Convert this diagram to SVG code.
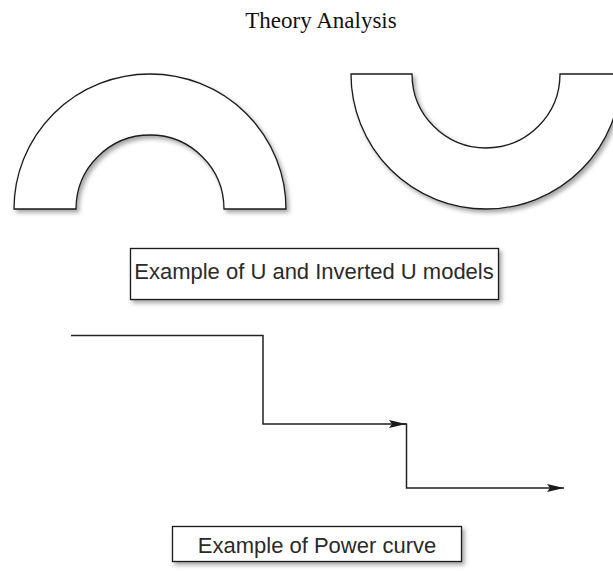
<svg xmlns="http://www.w3.org/2000/svg" width="613" height="571" viewBox="0 0 613 571">
  <style>
    .shape { fill: #ffffff; stroke: #1a1a1a; stroke-width: 1.3; filter: url(#shadow); }
    .label { font-family: "Liberation Sans", Arial, sans-serif; font-size: 22px; fill: #2a2a2a; }
    .title { font-family: "Liberation Serif", "Times New Roman", serif; font-size: 23px; fill: #111111; }
    .conn { fill: none; stroke: #222222; stroke-width: 1.5; }
  </style>
  <defs>
    <filter id="shadow" x="-10%" y="-10%" width="130%" height="140%">
      <feDropShadow dx="2.5" dy="3" stdDeviation="2" flood-color="#000000" flood-opacity="0.35"/>
    </filter>
    <marker id="arrow" viewBox="0 0 17 8" refX="17" refY="4" markerWidth="17" markerHeight="8" markerUnits="userSpaceOnUse" orient="auto">
      <path d="M0,0 L17,4 L0,8 L3,4 Z" fill="#1a1a1a"/>
    </marker>
  </defs>
  <rect width="613" height="571" fill="#ffffff"/>

  <g id="title">
    <text class="title" x="321" y="28" text-anchor="middle">Theory Analysis</text>
  </g>

  <g id="inverted-u">
    <path class="shape" d="M14,209 A136,135 0 0 1 286,209 L224,209 A74,74 0 0 0 76,209 Z"/>
  </g>

  <g id="u-shape">
    <path class="shape" d="M351,74 L412,74 A74,74 0 0 0 560,74 L621,74 A135,135 0 0 1 351,74 Z"/>
  </g>

  <g id="label-u-models">
    <rect class="shape" x="130.5" y="248.5" width="368" height="51"/>
    <text class="label" x="314" y="279" text-anchor="middle">Example of U and Inverted U models</text>
  </g>

  <g id="connectors">
    <path class="conn" d="M71,335.5 L263,335.5 L263,424 L406,424" marker-end="url(#arrow)"/>
    <path class="conn" d="M400,424 L406.5,424 L406.5,488 L564,488" marker-end="url(#arrow)"/>
  </g>

  <g id="label-power-curve">
    <rect class="shape" x="172.5" y="526.5" width="289" height="35"/>
    <text class="label" x="317" y="553" text-anchor="middle">Example of Power curve</text>
  </g>
</svg>
